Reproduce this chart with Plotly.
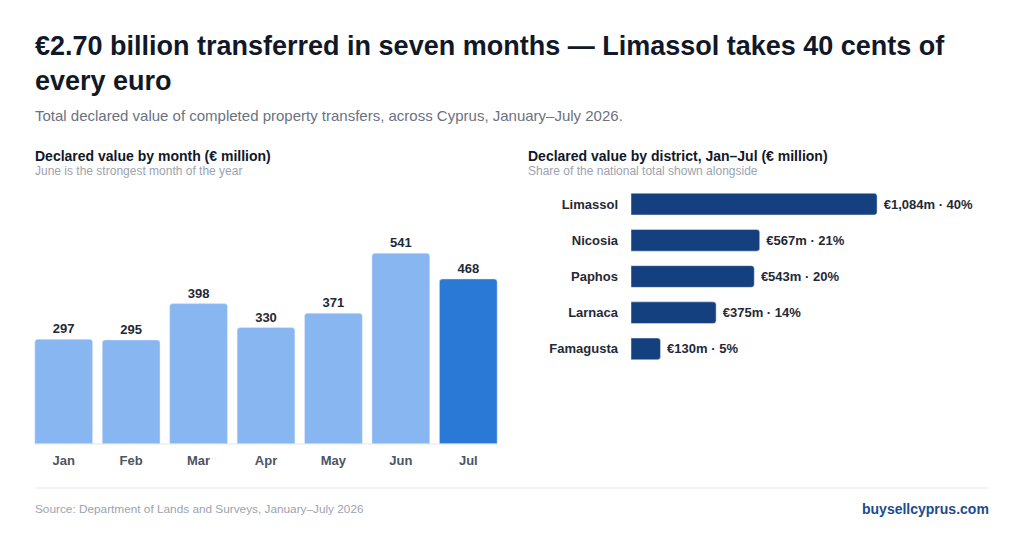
import plotly.graph_objects as go

# Monthly declared value (EUR million)
months = ["Jan", "Feb", "Mar", "Apr", "May", "Jun", "Jul"]
month_values = [297, 295, 398, 330, 371, 541, 468]

# District totals Jan-Jul (EUR million)
districts = ["Limassol", "Nicosia", "Paphos", "Larnaca", "Famagusta"]
district_values = [1084, 567, 543, 375, 130]

FONT = "Liberation Sans, Arial, sans-serif"
W, H = 1024, 540
OFF = 8  # page body margin
PAD = 2  # annotation inner padding


def px_x(x):
    return (x - OFF) / W


def px_y(y):
    return 1 - (y - OFF) / H


total = sum(district_values)
district_text = [f" €{v:,}m · {round(v / total * 100)}%" for v in district_values]
month_colors = ["#87b6f1"] * (len(months) - 1) + ["#2a79d7"]

fig = go.Figure()

# Left: monthly bars
fig.add_trace(
    go.Bar(
        x=months,
        y=month_values,
        marker=dict(color=month_colors, cornerradius=3),
        text=[str(v) for v in month_values],
        textposition="outside",
        textfont=dict(family=FONT, size=13, color="#1f2937", weight="bold"),
        cliponaxis=False,
        xaxis="x",
        yaxis="y",
        hoverinfo="skip",
    )
)

# Right: district bars
fig.add_trace(
    go.Bar(
        x=district_values,
        y=districts,
        orientation="h",
        width=0.6,
        marker=dict(color="#15407f", cornerradius=3),
        text=district_text,
        textposition="outside",
        textfont=dict(family=FONT, size=13, color="#1f2937", weight="bold"),
        cliponaxis=False,
        xaxis="x2",
        yaxis="y2",
        hoverinfo="skip",
    )
)

fig.update_layout(
    width=W,
    height=H,
    margin=dict(l=0, r=0, t=0, b=0),
    paper_bgcolor="white",
    plot_bgcolor="white",
    showlegend=False,
    bargap=0.143,
    font=dict(family=FONT),
    xaxis=dict(
        domain=[px_x(30), px_x(502)],
        anchor="y",
        showgrid=False,
        showline=False,
        ticks="",
        ticklabelstandoff=7,
        tickfont=dict(family=FONT, size=13, color="#4b5563", weight="bold"),
        fixedrange=True,
    ),
    yaxis=dict(
        domain=[px_y(444), px_y(220)],
        anchor="x",
        range=[0, 635],
        visible=False,
        fixedrange=True,
    ),
    xaxis2=dict(
        domain=[px_x(631), px_x(989)],
        anchor="y2",
        range=[0, 1577],
        visible=False,
        fixedrange=True,
    ),
    yaxis2=dict(
        domain=[px_y(367), px_y(186)],
        anchor="x2",
        autorange="reversed",
        showgrid=False,
        showline=False,
        ticks="",
        ticklabelstandoff=12,
        tickfont=dict(family=FONT, size=13, color="#1f2937", weight="bold"),
        fixedrange=True,
    ),
)

texts = [
    dict(x=35, y=63, size=27, color="#111827", bold=True,
         text="€2.70 billion transferred in seven months — Limassol takes 40 cents of<br>every euro"),
    dict(x=35, y=116, size=15, color="#6b7280", bold=False,
         text="Total declared value of completed property transfers, across Cyprus, January–July 2026."),
    dict(x=35, y=156, size=14, color="#111827", bold=True,
         text="Declared value by month (€ million)"),
    dict(x=35, y=171, size=12, color="#9ca3af", bold=False,
         text="June is the strongest month of the year"),
    dict(x=528, y=156, size=14, color="#111827", bold=True,
         text="Declared value by district, Jan–Jul (€ million)"),
    dict(x=528, y=171, size=12, color="#9ca3af", bold=False,
         text="Share of the national total shown alongside"),
    dict(x=35, y=509, size=11.8, color="#9ca3af", bold=False,
         text="Source: Department of Lands and Surveys, January–July 2026"),
]
for t in texts:
    fig.add_annotation(
        x=px_x(t["x"] - PAD),
        y=px_y(t["y"]),
        xref="paper",
        yref="paper",
        xanchor="left",
        yanchor="middle",
        align="left",
        showarrow=False,
        text=f"<b>{t['text']}</b>" if t["bold"] else t["text"],
        font=dict(family=FONT, size=t["size"], color=t["color"]),
    )

fig.add_annotation(
    x=px_x(989 + PAD),
    y=px_y(509),
    xref="paper",
    yref="paper",
    xanchor="right",
    yanchor="middle",
    showarrow=False,
    text="<b>buysellcyprus.com</b>",
    font=dict(family=FONT, size=14, color="#1d4b8f"),
)

# Baseline under the monthly bars
fig.add_shape(
    type="line",
    xref="paper",
    yref="paper",
    x0=px_x(35),
    x1=px_x(497),
    y0=px_y(444),
    y1=px_y(444),
    line=dict(color="#e5e7eb", width=1),
)

# Footer divider
fig.add_shape(
    type="line",
    xref="paper",
    yref="paper",
    x0=px_x(35),
    x1=px_x(989),
    y0=px_y(488),
    y1=px_y(488),
    line=dict(color="#e5e7eb", width=1),
)

fig.write_html("out.html")
